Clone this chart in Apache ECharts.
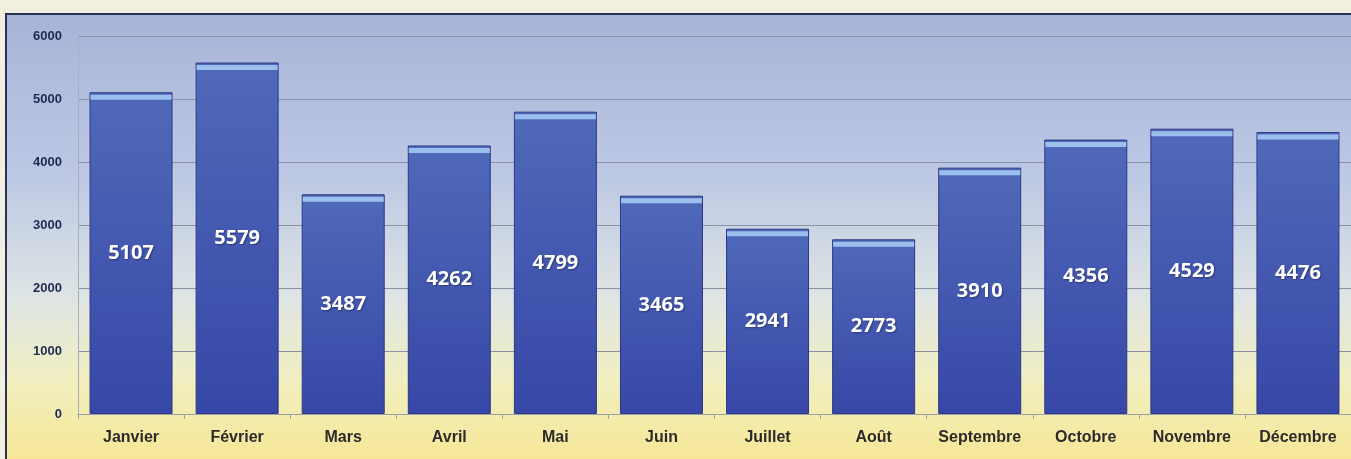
<!DOCTYPE html>
<html>
<head>
<meta charset="utf-8">
<script src="https://cdn.jsdelivr.net/npm/echarts@6/dist/echarts.min.js"></script>
<style>
  html, body { margin: 0; padding: 0; background: #f1efe0; }
  #chart { width: 1351px; height: 459px; }
</style>
</head>
<body>
<div id="chart"></div>
<script>
// mois
const months = ['Janvier', 'Février', 'Mars', 'Avril', 'Mai', 'Juin', 'Juillet', 'Août', 'Septembre', 'Octobre', 'Novembre', 'Décembre']
// valeurs
const values = [5107, 5579, 3487, 4262, 4799, 3465, 2941, 2773, 3910, 4356, 4529, 4476]
// axe y
const yMin = 0
const yMax = 6000
const yStep = 1000

const myChart = echarts.init(document.getElementById('chart'))

// fond du cadre
const frameFill = new echarts.graphic.LinearGradient(0, 0, 0, 1, [
  { offset: 0, color: '#a7b4d8' },
  { offset: 0.35, color: '#bcc8e4' },
  { offset: 0.62, color: '#dfe5e4' },
  { offset: 0.8, color: '#f1efbf' },
  { offset: 1, color: '#f8e58e' }
])
// couleur des barres
const barFill = new echarts.graphic.LinearGradient(0, 0, 0, 1, [
  { offset: 0, color: '#5069b9' },
  { offset: 1, color: '#3747a7' }
])

myChart.setOption({
  animation: false,
  graphic: [
    {
      type: 'rect',
      z: -10,
      shape: { x: 6, y: 14, width: 1360, height: 460 },
      style: { fill: frameFill, stroke: '#2a3152', lineWidth: 2 }
    }
  ],
  grid: { left: 78, right: -11, top: 36, bottom: 45 },
  xAxis: {
    type: 'category',
    data: months,
    axisLine: { show: true, lineStyle: { color: '#9aa0a8', width: 1 } },
    axisTick: { show: true, length: 5, lineStyle: { color: '#9aa0a8' } },
    axisLabel: {
      interval: 0,
      margin: 16,
      color: '#2b2b2b',
      fontSize: 16,
      fontWeight: 'bold',
      fontFamily: 'Liberation Sans Narrow, Arial Narrow, Liberation Sans, Arial'
    }
  },
  yAxis: {
    type: 'value',
    min: yMin,
    max: yMax,
    interval: yStep,
    axisLine: { show: true, lineStyle: { color: '#a8aebb', width: 1 } },
    axisTick: { show: false },
    axisLabel: {
      margin: 16,
      color: '#1f2a52',
      fontSize: 13,
      fontWeight: 'bold',
      fontFamily: 'Liberation Sans Narrow, Arial Narrow, Liberation Sans, Arial',
      formatter: v => String(v)
    },
    splitLine: { lineStyle: { color: '#8a91a6', width: 1 } }
  },
  series: [
    {
      name: 'valeurs',
      type: 'bar',
      data: values,
      barWidth: 83,
      itemStyle: {
        color: barFill,
        borderColor: '#2c3884',
        borderWidth: 1
      },
      label: {
        show: true,
        position: 'inside',
        color: '#ffffff',
        fontSize: 20,
        fontWeight: 'bold',
        fontFamily: 'Open Sans, Noto Sans, sans-serif',
        textShadowColor: 'rgba(20,30,80,0.6)',
        textShadowBlur: 2,
        textShadowOffsetX: 1,
        textShadowOffsetY: 1
      }
    },
    {
      // liseré clair en haut des barres
      name: 'haut',
      type: 'pictorialBar',
      data: values,
      barGap: '-100%',
      symbol: 'rect',
      symbolPosition: 'end',
      symbolSize: [81, 5],
      symbolOffset: [0, '50%'],
      itemStyle: { color: '#9cc0ee' },
      z: 3,
      silent: true
    }
  ]
})
</script>
</body>
</html>
